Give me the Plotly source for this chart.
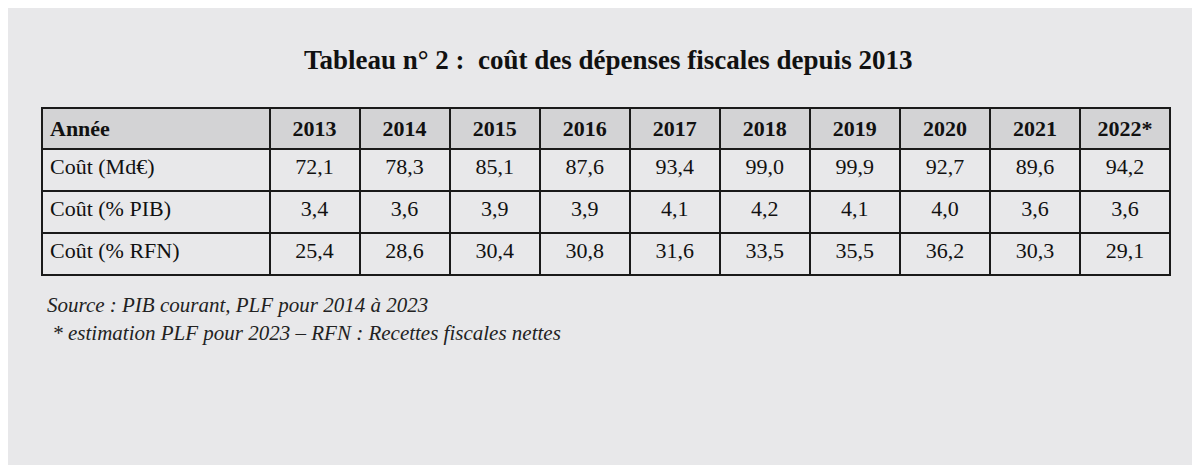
import plotly.graph_objects as go

annees = ["2013", "2014", "2015", "2016", "2017", "2018", "2019", "2020", "2021", "2022*"]
lignes = ["Coût (Md€)", "Coût (% PIB)", "Coût (% RFN)"]
cout_md = ["72,1", "78,3", "85,1", "87,6", "93,4", "99,0", "99,9", "92,7", "89,6", "94,2"]
cout_pib = ["3,4", "3,6", "3,9", "3,9", "4,1", "4,2", "4,1", "4,0", "3,6", "3,6"]
cout_rfn = ["25,4", "28,6", "30,4", "30,8", "31,6", "33,5", "35,5", "36,2", "30,3", "29,1"]

W, H = 1200, 465
off = 8  # page margin of the browser
bg = "#e8e8ea"
serif = "Liberation Serif"

def px(x):
    return (x - off) / W

def py(y):
    return 1 - (y - off) / H

cols = [lignes] + [[a, b, c] for a, b, c in zip(cout_md, cout_pib, cout_rfn)]

fig = go.Figure(go.Table(
    domain=dict(x=[px(42), px(1170)], y=[py(280), py(108)]),
    columnwidth=[235] + [93] * len(annees),
    header=dict(
        values=["<b>Année</b>"] + ["<b>%s</b>" % a for a in annees],
        align=["left"] + ["center"] * len(annees),
        fill_color="#d3d3d5",
        line=dict(color="#1a1a1a", width=2),
        font=dict(family=serif, size=22, color="#111"),
        height=41,
    ),
    cells=dict(
        values=cols,
        align=["left"] + ["center"] * len(annees),
        fill_color=bg,
        line=dict(color="#1a1a1a", width=2),
        font=dict(family=serif, size=22, color="#111"),
        height=42,
    ),
))

fig.add_annotation(text="<b>Tableau n° 2 :  coût des dépenses fiscales depuis 2013</b>",
                   x=px(608), y=py(60), xref="paper", yref="paper", yanchor="middle",
                   showarrow=False, font=dict(family=serif, size=27, color="#111"))
fig.add_annotation(text="<i>Source : PIB courant, PLF pour 2014 à 2023</i>",
                   x=px(45), y=py(305), xref="paper", yref="paper", xanchor="left",
                   yanchor="middle",
                   showarrow=False, font=dict(family=serif, size=21, color="#222"))
fig.add_annotation(text="<i> * estimation PLF pour 2023 – RFN : Recettes fiscales nettes</i>",
                   x=px(45), y=py(333), xref="paper", yref="paper", xanchor="left",
                   yanchor="middle",
                   showarrow=False, font=dict(family=serif, size=21, color="#222"))

fig.update_layout(width=W, height=H, margin=dict(l=0, r=0, t=0, b=0),
                  paper_bgcolor=bg, plot_bgcolor=bg)

fig.write_html("out.html")
